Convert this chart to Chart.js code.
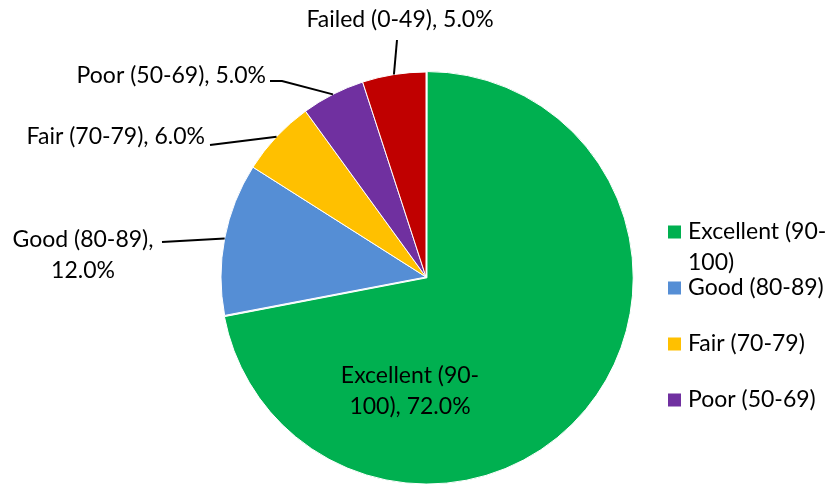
<!DOCTYPE html>
<html>
<head>
<meta charset="utf-8">
<script src="https://cdn.jsdelivr.net/npm/chart.js@4.4.1/dist/chart.umd.min.js"></script>
<style>
  html, body { margin: 0; padding: 0; background: #fff; }
  #wrap { width: 836px; height: 488px; position: relative; }
</style>
</head>
<body>
<div id="wrap"><canvas id="gradeChart" width="836" height="488"></canvas></div>
<script>
// grade bands and their share of students (%)
const categories = ["Excellent (90-100)", "Good (80-89)", "Fair (70-79)", "Poor (50-69)", "Failed (0-49)"];
const shares = [72.0, 12.0, 6.0, 5.0, 5.0];
const colors = ["#00B050", "#558ED5", "#FFC000", "#7030A0", "#C00000"];
// the original legend only has room for the first four entries
const legendCount = 4;

const FONT = "23px Lato, 'Open Sans', sans-serif";

// where each data label sits (x, y of the text block), how it is aligned,
// where its leader line starts and the width it may wrap at
const labelLayout = [
    { x: 410, y: 376, align: "center", maxWidth: 165, line: null },
    { x: 83, y: 240, align: "center", maxWidth: 165, line: [162, 242, null] },
    { x: 205, y: 137, align: "right", maxWidth: 400, line: [210, 145, null] },
    { x: 266, y: 76, align: "right", maxWidth: 400, line: [270, 81, 282] },
    { x: 400, y: 20, align: "center", maxWidth: 400, line: [397, 40, null] }
];

// break text after spaces or hyphens so it fits maxWidth
function wrapText(ctx, text, maxWidth) {
    const tokens = text.match(/[^\s-]*-|[^\s-]+\s*|\s+/g) || [text];
    const lines = [];
    let cur = "";
    tokens.forEach(t => {
        const test = cur + t;
        if (cur && ctx.measureText(test.trim()).width > maxWidth) {
            lines.push(cur.trim());
            cur = t;
        } else {
            cur = test;
        }
    });
    if (cur.trim()) lines.push(cur.trim());
    return lines;
}

const pieLabels = {
    id: "pieLabels",
    afterDatasetsDraw(chart) {
        const ctx = chart.ctx;
        const meta = chart.getDatasetMeta(0);
        ctx.save();
        ctx.font = FONT;
        ctx.fillStyle = "#000";
        ctx.strokeStyle = "#000";
        ctx.lineWidth = 2;
        ctx.textBaseline = "middle";
        meta.data.forEach((arc, i) => {
            const lay = labelLayout[i];
            const p = arc.getProps(["x", "y", "startAngle", "endAngle", "outerRadius"], true);
            const mid = (p.startAngle + p.endAngle) / 2;
            // leader line from the label to the rim of the slice
            if (lay.line) {
                const ex = p.x + Math.cos(mid) * p.outerRadius;
                const ey = p.y + Math.sin(mid) * p.outerRadius;
                ctx.beginPath();
                ctx.moveTo(lay.line[0], lay.line[1]);
                if (lay.line[2] !== null) ctx.lineTo(lay.line[2], lay.line[1]);
                ctx.lineTo(ex, ey);
                ctx.stroke();
            }
            const text = categories[i] + ", " + shares[i].toFixed(1) + "%";
            const lines = wrapText(ctx, text, lay.maxWidth);
            ctx.textAlign = lay.align;
            lines.forEach((ln, k) => ctx.fillText(ln, lay.x, lay.y + k * 31));
        });

        // legend on the right
        const lx = 668, ly = 232, box = 13;
        ctx.textAlign = "left";
        for (let i = 0; i < legendCount; i++) {
            const y = ly + i * 56;
            ctx.fillStyle = colors[i];
            ctx.fillRect(lx, y - box / 2, box, box);
            ctx.fillStyle = "#000";
            const lines = wrapText(ctx, categories[i], 148);
            lines.forEach((ln, k) => ctx.fillText(ln, lx + 20, y + k * 31));
        }
        ctx.restore();
    }
};

const ctx = document.getElementById("gradeChart").getContext("2d");
new Chart(ctx, {
    type: "pie",
    data: {
        labels: categories,
        datasets: [{
            data: shares,
            backgroundColor: colors,
            borderColor: "#ffffff",
            borderWidth: 1,
            offset: [5, 0, 0, 0, 0],
            hoverOffset: 0
        }]
    },
    options: {
        responsive: false,
        animation: false,
        radius: 205,
        layout: { padding: { left: 16, right: 0, top: 66, bottom: 0 } },
        plugins: {
            legend: { display: false },
            tooltip: { enabled: false }
        }
    },
    plugins: [pieLabels]
});
</script>
</body>
</html>
